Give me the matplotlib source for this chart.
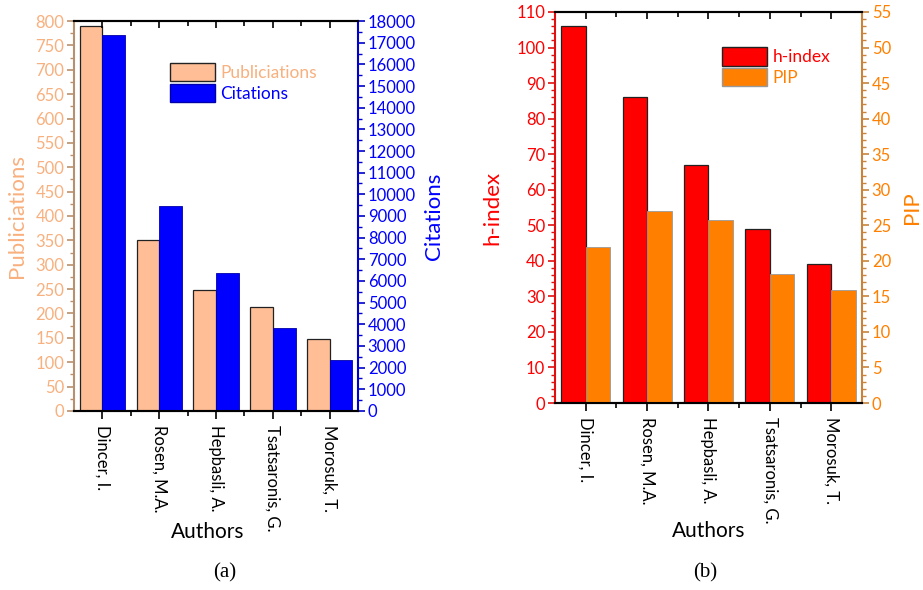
import matplotlib
matplotlib.use('Agg')
from matplotlib import pyplot as plt
from matplotlib.patches import Patch
from matplotlib.ticker import MultipleLocator, FixedLocator
import numpy as np

plt.rcParams['font.family'] = ['Lato', 'DejaVu Sans']

authors = ['Dincer, I.', 'Rosen, M.A.', 'Hepbasli, A.', 'Tsatsaronis, G.', 'Morosuk, T.']
publications = [790, 351, 248, 213, 148]
citations = [17350, 9480, 6390, 3850, 2350]
h_index = [106, 86, 67, 49, 39]
pip = [22.0, 27.0, 25.8, 18.2, 15.9]

c_pub = '#FFBE96'
c_pub_txt = '#F8B07E'
c_cit = '#0000FF'
c_h = '#FF0000'
c_pip = '#FF8000'

x = np.arange(1, len(authors) + 1)
w = 0.4

fig = plt.figure(figsize=(9.23, 5.9), dpi=100)
ax1 = fig.add_axes([0.0802, 0.3034, 0.3077, 0.661])
ax1b = ax1.twinx()
ax2 = fig.add_axes([0.6013, 0.3169, 0.3326, 0.6628])
ax2b = ax2.twinx()


def style_x(ax, twin, label_xy):
    ax.set_xlim(0.5, 5.5)
    ax.xaxis.set_major_locator(FixedLocator(x))
    ax.xaxis.set_minor_locator(FixedLocator(x[:-1] + 0.5))
    ax.set_xticklabels(authors, rotation=-90, fontsize=12)
    ax.tick_params(axis='x', which='major', direction='out', length=6, width=1.2, pad=4)
    ax.tick_params(axis='x', which='minor', direction='out', length=3.5, width=1.2)
    ax.set_xlabel('Authors', fontsize=15)
    ax.xaxis.set_label_coords(*label_xy)
    # inward ticks along the top, drawn by the twin's x axis
    twin.xaxis.set_visible(True)
    twin.tick_params(axis='x', which='both', bottom=False, top=True,
                     labelbottom=False, labeltop=False, direction='in', width=1.2)
    twin.tick_params(axis='x', which='major', length=5)
    twin.tick_params(axis='x', which='minor', length=3.5)


def style_y(ax, side, color, tcolor, major, minor, top):
    ax.set_ylim(0, top)
    ax.yaxis.set_major_locator(MultipleLocator(major))
    ax.yaxis.set_minor_locator(MultipleLocator(minor))
    ax.spines[side].set_color(color)
    ax.spines[side].set_linewidth(1.5)
    ax.tick_params(axis='y', which='major', colors=color, labelcolor=tcolor,
                   length=5, width=1.2, labelsize=12, pad=2)
    ax.tick_params(axis='y', which='minor', colors=color, length=3, width=1)


# (a) publications / citations
ax1.bar(x - w / 2, publications, w, color=c_pub, edgecolor='#222222', linewidth=0.9, zorder=2)
ax1b.bar(x + w / 2, citations, w, color=c_cit, edgecolor='#0000AA', linewidth=0.6, zorder=2)
style_x(ax1, ax1b, (0.47, -0.285))
style_y(ax1, 'left', '#B8906E', c_pub_txt, 50, 25, 800)
style_y(ax1b, 'right', '#0000CC', c_cit, 1000, 500, 18000)
ax1.spines['right'].set_visible(False)
ax1b.spines['left'].set_visible(False)
for a in (ax1, ax1b):
    a.spines['top'].set_linewidth(1.5)
    a.spines['bottom'].set_linewidth(1.5)
ax1.set_ylabel('Publiciations', color=c_pub_txt, fontsize=16, labelpad=6)
ax1b.set_ylabel('Citations', color=c_cit, fontsize=16, labelpad=6)
ax1b.legend(handles=[Patch(facecolor=c_pub, edgecolor='#222222', label='Publiciations'),
                     Patch(facecolor=c_cit, edgecolor='#0000AA', label='Citations')],
            loc='upper left', bbox_to_anchor=(0.338, 0.892), frameon=False, fontsize=12.5,
            handlelength=2.6, handleheight=1.25, labelspacing=0.15, borderpad=0,
            borderaxespad=0, handletextpad=0.3, labelcolor=[c_pub_txt, c_cit])

# (b) h-index / PIP
ax2.bar(x - w / 2, h_index, w, color=c_h, edgecolor='#222222', linewidth=0.9, zorder=2)
ax2b.bar(x + w / 2, pip, w, color=c_pip, edgecolor='#999999', linewidth=0.6, zorder=2)
style_x(ax2, ax2b, (0.50, -0.302))
style_y(ax2, 'left', '#E01010', c_h, 10, 2, 110)
style_y(ax2b, 'right', '#C8843C', c_pip, 5, 1, 55)
ax2.spines['right'].set_visible(False)
ax2b.spines['left'].set_visible(False)
for a in (ax2, ax2b):
    a.spines['top'].set_linewidth(1.5)
    a.spines['bottom'].set_linewidth(1.5)
ax2.set_ylabel('h-index', color=c_h, fontsize=16, labelpad=10)
ax2b.set_ylabel('PIP', color=c_pip, fontsize=16, labelpad=8)
ax2b.legend(handles=[Patch(facecolor=c_h, edgecolor='#222222', label='h-index'),
                     Patch(facecolor=c_pip, edgecolor='#999999', label='PIP')],
            loc='upper left', bbox_to_anchor=(0.544, 0.910), frameon=False, fontsize=12.5,
            handlelength=2.6, handleheight=1.25, labelspacing=0.15, borderpad=0,
            borderaxespad=0, handletextpad=0.3, labelcolor=[c_h, c_pip])

fig.text(0.243, 0.029, '(a)', family='Liberation Serif', fontsize=15, ha='center', va='center')
fig.text(0.764, 0.029, '(b)', family='Liberation Serif', fontsize=15, ha='center', va='center')

fig.savefig('out.png', dpi=100)
